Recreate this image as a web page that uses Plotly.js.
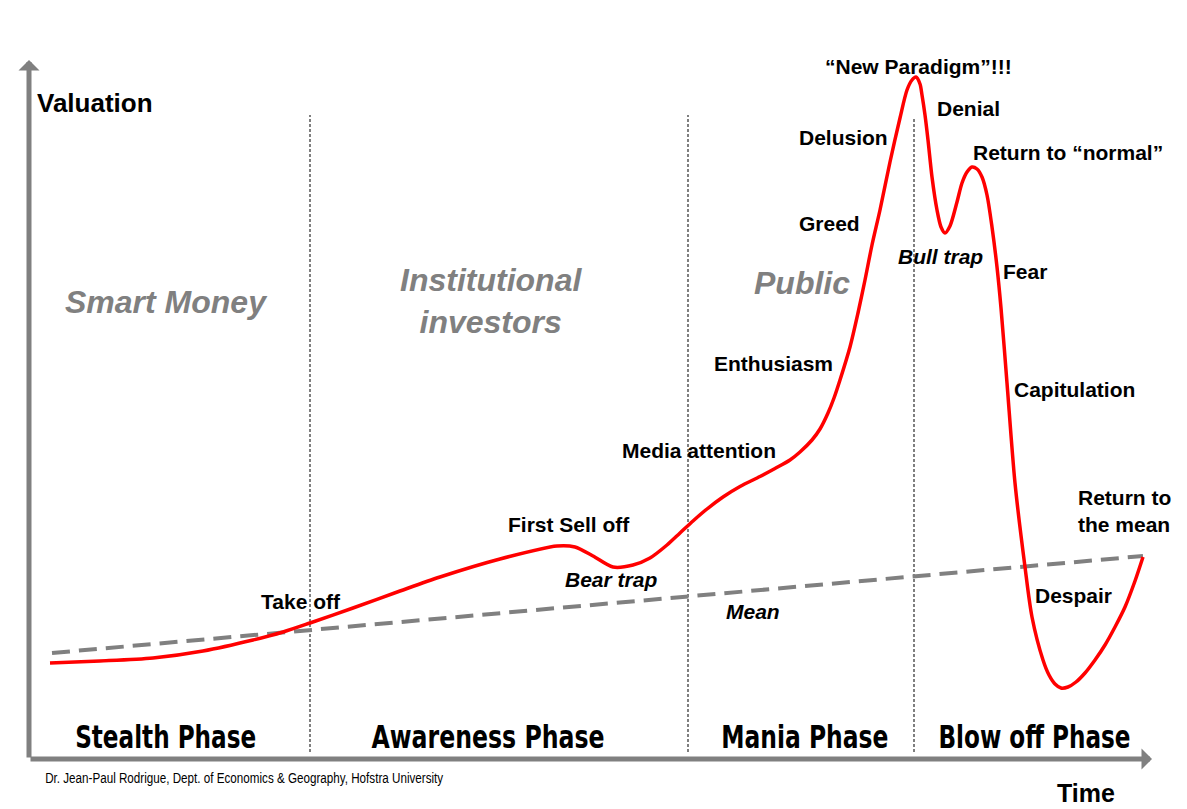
<!DOCTYPE html>
<html>
<head>
<meta charset="utf-8">
<script src="https://cdn.plot.ly/plotly-3.0.1.min.js"></script>
<style>
  html, body { margin: 0; padding: 0; background: #ffffff; }
  #chart { width: 1187px; height: 809px; }
</style>
</head>
<body>
<div id="chart"></div>
<script>
// ---- Data (conceptual time vs. valuation units) ----
const curveTime = [21, 71, 124, 174, 224, 254, 281, 324, 371, 411, 471, 528, 546, 564, 584, 604, 621, 638, 651, 664, 678, 694, 711, 731, 746, 761, 771, 783, 791, 799, 805, 811, 821, 829, 836, 843, 851, 861, 871, 878, 883, 887, 891, 893, 896, 899, 903, 908, 912, 916, 921, 928, 933, 938, 943, 948, 953, 958, 963, 968, 972, 978, 986, 996, 1003, 1014, 1020, 1026, 1032, 1039, 1047, 1056, 1066, 1076, 1086, 1096, 1106, 1114];
const curveValue = [96, 98, 101, 108, 119, 127, 136, 151, 168, 182, 200, 213, 212, 203, 192, 194, 201, 214, 226, 238, 250, 262, 272.5, 282.5, 290.5, 299, 307, 319, 330, 346, 361, 379, 412, 446, 479, 514, 549, 597, 641, 669, 679, 682, 675, 664, 644, 619, 582, 549, 532, 526, 533, 557, 576, 587, 592, 590, 582, 564, 532, 492, 451, 376, 276, 192, 142, 99, 84, 75, 71, 72, 77, 86, 99, 114, 132, 152, 178, 202];

const meanTime = [23, 1114];
const meanValue = [106, 203];

const phaseBounds = [281, 659, 885];
const boundTop = [644, 644, 642];

const phaseNames = ["Stealth Phase", "Awareness Phase", "Mania Phase", "Blow off Phase"];
const phaseCenters = [136, 459, 776, 1005];
const phaseWidths = [181, 233, 167, 192];

const actorNames = ["Smart Money", "Institutional<br>investors", "Public"];

const labelTexts = ["Take off", "First Sell off", "Media attention", "Enthusiasm", "Greed", "Delusion", "“New Paradigm”!!!", "Denial", "Return to “normal”", "Fear", "Capitulation", "Despair", "Return to<br>the mean"];
const labelX = [230, 477, 591, 683, 768, 768, 889, 906, 942, 972, 983, 1004, 1047];
const labelY = [158, 235, 309, 396, 536, 622, 693, 651, 607, 488, 370, 164, 248];

const italicTexts = ["Bear trap", "Mean", "Bull trap"];
const italicX = [534, 695, 867];
const italicY = [180, 148, 503];

const footerText = "Dr. Jean-Paul Rodrigue, Dept. of Economics & Geography, Hofstra University";

// ---- Build traces ----
const FONT = "Liberation Sans, Arial, sans-serif";
const traces = [];

phaseBounds.forEach((b, i) => {
  traces.push({
    x: [b, b], y: [7, boundTop[i]], mode: 'lines', hoverinfo: 'skip',
    line: { color: '#7f7f7f', width: 2, dash: '3px,2px' }
  });
});

traces.push({
  x: meanTime, y: meanValue, mode: 'lines', hoverinfo: 'skip',
  line: { color: '#808080', width: 4, dash: '18px,9px' }
});

traces.push({
  x: curveTime, y: curveValue, mode: 'lines', hoverinfo: 'skip',
  line: { color: '#ff0000', width: 3.5, shape: 'spline', smoothing: 0.8 }
});

const ann = [];
// axes arrows
ann.push({ x: 0, y: 699, ax: 0, ay: 0, axref: 'x', ayref: 'y', xref: 'x', yref: 'y', text: '', showarrow: true,
  arrowhead: 1, arrowsize: 0.7, arrowwidth: 5, arrowcolor: '#808080', standoff: 0 });
ann.push({ x: 1123, y: 0, ax: 0, ay: 0, axref: 'x', ayref: 'y', xref: 'x', yref: 'y', text: '', showarrow: true,
  arrowhead: 1, arrowsize: 0.7, arrowwidth: 5, arrowcolor: '#808080', standoff: 0 });

ann.push({ x: 6, y: 656, text: 'Valuation', showarrow: false, xanchor: 'left', yanchor: 'middle',
  font: { family: FONT, size: 26, color: '#000', weight: 'bold' } });
ann.push({ x: 1026, xref: 'x', y: -34 / 759, yref: 'paper', text: 'Time', showarrow: false, xanchor: 'left', yanchor: 'middle',
  font: { family: FONT, size: 25, color: '#000', weight: 'bold' } });
ann.push({ x: 215, xref: 'x', y: -19 / 759, yref: 'paper', text: footerText.replace('&', '&amp;'), showarrow: false,
  xanchor: 'center', yanchor: 'middle', font: { family: FONT, size: 14, color: '#000' } });

phaseNames.forEach((t, i) => {
  ann.push({ x: phaseCenters[i], y: 22, text: t, showarrow: false, xanchor: 'center', yanchor: 'middle',
    font: { family: "DejaVu Sans Condensed, DejaVu Sans, sans-serif", size: 32, color: '#000', weight: 'bold' } });
});

const actorX = [34, 462, 723];
const actorY = [457, 458, 476];
const actorAnchor = ['left', 'center', 'left'];
actorNames.forEach((t, i) => {
  ann.push({ x: actorX[i], y: actorY[i], text: '<b><i>' + t + '</i></b>', showarrow: false, xanchor: actorAnchor[i], yanchor: 'middle', align: 'center',
    font: { family: FONT, size: 32, color: '#808080' } });
});

labelTexts.forEach((t, i) => {
  ann.push({ x: labelX[i], y: labelY[i], text: t, showarrow: false, xanchor: i === 6 ? 'center' : 'left', yanchor: 'middle', align: 'left',
    font: { family: FONT, size: 21, color: '#000', weight: 'bold' } });
});
italicTexts.forEach((t, i) => {
  ann.push({ x: italicX[i], y: italicY[i], text: '<i>' + t + '</i>', showarrow: false, xanchor: 'left', yanchor: 'middle',
    font: { family: FONT, size: 21, color: '#000', weight: 'bold' } });
});

const layout = {
  width: 1187, height: 809,
  margin: { l: 29, r: 0, t: 0, b: 50 },
  paper_bgcolor: '#ffffff', plot_bgcolor: '#ffffff',
  showlegend: false,
  xaxis: { range: [0, 1158], showgrid: false, zeroline: false, showticklabels: false, showline: false, ticks: '', fixedrange: true },
  yaxis: { range: [0, 759], showgrid: false, zeroline: false, showticklabels: false, showline: false, ticks: '', fixedrange: true },
  annotations: ann
};

Plotly.newPlot('chart', traces, layout, { staticPlot: true, displayModeBar: false }).then(() => {
  // condense the heavy phase titles and the footer to their original widths
  const widths = {};
  phaseNames.forEach((t, i) => { widths[t] = phaseWidths[i]; });
  widths[footerText] = 398;
  document.querySelectorAll('.annotation-text').forEach(el => {
    const w = widths[el.textContent];
    if (w) {
      el.setAttribute('textLength', w);
      el.setAttribute('lengthAdjust', 'spacingAndGlyphs');
    }
  });
});
</script>
</body>
</html>
